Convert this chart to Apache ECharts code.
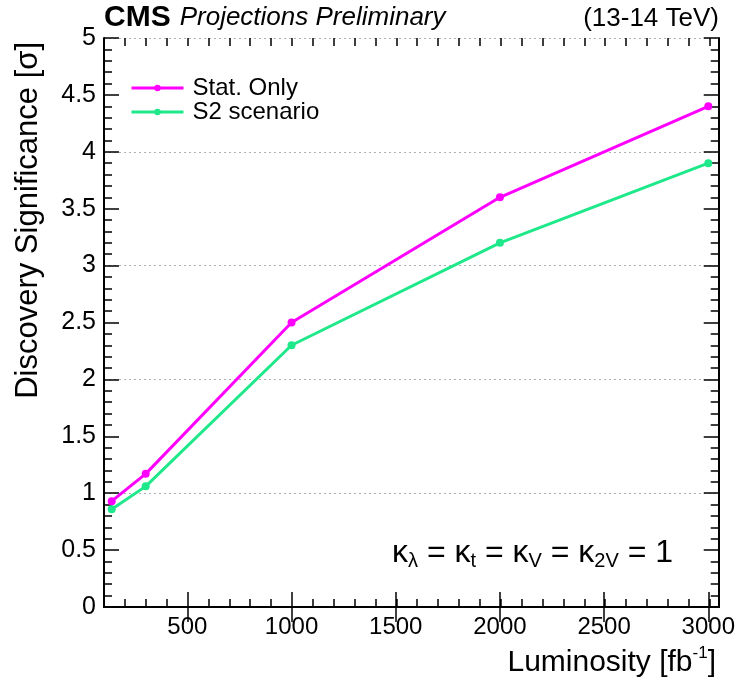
<!DOCTYPE html>
<html>
<head>
<meta charset="utf-8">
<script src="https://cdn.jsdelivr.net/npm/echarts@6/dist/echarts.min.js"></script>
<style>
  html, body { margin: 0; padding: 0; background: #fff; }
  #chart { width: 738px; height: 687px; }
</style>
</head>
<body>
<div id="chart"></div>
<script>
// Integrated luminosity points [fb^-1]
const luminosity = [137, 300, 1000, 2000, 3000];
// Discovery significance [sigma]
const statOnly = [0.93, 1.17, 2.50, 3.60, 4.40];
const s2Scenario = [0.86, 1.06, 2.30, 3.20, 3.90];
// Labelled ticks on the luminosity axis
const xTickLabels = [500, 1000, 1500, 2000, 2500, 3000];
const xMinorStep = 100;

const FONT = "'Liberation Sans', Arial, Helvetica, sans-serif";
const X_MIN = 100, X_MAX = 3050;

const xMinorTicks = [];
for (let v = X_MIN; v <= 3000; v += xMinorStep) xMinorTicks.push(v);

const pairs = (xs, ys) => xs.map((x, i) => [x, ys[i]]);

const chart = echarts.init(document.getElementById('chart'), null, { renderer: 'canvas' });

const gridRect = { left: 104, right: 18, top: 38, bottom: 80, containLabel: false };
const frameLine = { show: true, lineStyle: { color: '#000', width: 2 } };
const tickLine = { color: '#000', width: 1.5 };

chart.setOption({
  animation: false,
  backgroundColor: '#fff',
  grid: [Object.assign({}, gridRect), Object.assign({}, gridRect)],
  xAxis: [
    { // bottom: major ticks + labels
      type: 'value', gridIndex: 0, position: 'bottom', min: X_MIN, max: X_MAX,
      axisLine: frameLine,
      axisTick: { show: true, inside: true, length: 15, customValues: xTickLabels, lineStyle: tickLine },
      axisLabel: { show: true, customValues: xTickLabels, fontSize: 24, fontFamily: FONT, color: '#000', margin: 8,
                   formatter: v => String(v) },
      splitLine: { show: false }
    },
    { // top: major ticks
      type: 'value', gridIndex: 0, position: 'top', min: X_MIN, max: X_MAX,
      axisLine: frameLine,
      axisTick: { show: true, inside: true, length: 15, customValues: xTickLabels, lineStyle: tickLine },
      axisLabel: { show: false },
      splitLine: { show: false }
    },
    { // bottom: minor ticks
      type: 'value', gridIndex: 1, position: 'bottom', min: X_MIN, max: X_MAX,
      axisLine: { show: false },
      axisTick: { show: true, inside: true, length: 8, customValues: xMinorTicks, lineStyle: tickLine },
      axisLabel: { show: false },
      splitLine: { show: false }
    },
    { // top: minor ticks
      type: 'value', gridIndex: 1, position: 'top', min: X_MIN, max: X_MAX,
      axisLine: { show: false },
      axisTick: { show: true, inside: true, length: 8, customValues: xMinorTicks, lineStyle: tickLine },
      axisLabel: { show: false },
      splitLine: { show: false }
    }
  ],
  yAxis: [
    { // left: labels, major + minor ticks
      type: 'value', gridIndex: 0, position: 'left', min: 0, max: 5, interval: 0.5,
      axisLine: frameLine,
      axisTick: { show: true, inside: true, length: 15, lineStyle: tickLine },
      minorTick: { show: true, splitNumber: 5, length: 8, lineStyle: tickLine },
      axisLabel: { show: true, fontSize: 25, fontFamily: FONT, color: '#000', margin: 8,
                   formatter: v => String(Math.round(v * 10) / 10) },
      splitLine: { show: false }
    },
    { // right: mirrored ticks
      type: 'value', gridIndex: 0, position: 'right', min: 0, max: 5, interval: 0.5,
      axisLine: frameLine,
      axisTick: { show: true, inside: true, length: 15, lineStyle: tickLine },
      minorTick: { show: true, splitNumber: 5, length: 8, lineStyle: tickLine },
      axisLabel: { show: false },
      splitLine: { show: false }
    },
    { // dotted horizontal grid at whole sigma values
      type: 'value', gridIndex: 1, position: 'left', min: 0, max: 5, interval: 1,
      axisLine: { show: false },
      axisTick: { show: false },
      axisLabel: { show: false },
      splitLine: { show: true, lineStyle: { color: '#b0b0b0', width: 1, type: [2, 3] } }
    }
  ],
  legend: {
    orient: 'vertical',
    left: 130, top: 76, padding: 0,
    itemWidth: 52, itemHeight: 8, itemGap: 0,
    lineStyle: { width: 3 },
    textStyle: { fontSize: 24, fontFamily: FONT, color: '#000', lineHeight: 24, padding: [0, 0, 0, 4] },
    data: ['Stat. Only', 'S2 scenario']
  },
  series: [
    {
      name: 'Stat. Only', type: 'line', xAxisIndex: 0, yAxisIndex: 0,
      data: pairs(luminosity, statOnly),
      symbol: 'circle', symbolSize: 8, showSymbol: true,
      lineStyle: { color: '#ff00ff', width: 3 },
      itemStyle: { color: '#ff00ff' },
      z: 3
    },
    {
      name: 'S2 scenario', type: 'line', xAxisIndex: 0, yAxisIndex: 0,
      data: pairs(luminosity, s2Scenario),
      symbol: 'circle', symbolSize: 8, showSymbol: true,
      lineStyle: { color: '#1fe88a', width: 3 },
      itemStyle: { color: '#1fe88a' },
      z: 3
    }
  ],
  graphic: [
    { // header, left
      type: 'text', left: 104, top: 3,
      style: {
        text: '{b|CMS}{i|Projections Preliminary}',
        rich: {
          b: { fontSize: 30, fontWeight: 'bold', fontFamily: FONT, fill: '#000', lineHeight: 32 },
          i: { fontSize: 26, fontStyle: 'italic', fontFamily: FONT, fill: '#000', lineHeight: 32, padding: [0, 0, 0, 9] }
        }
      }
    },
    { // header, right
      type: 'text', right: 19, top: 3,
      style: { text: '(13-14 TeV)', fontSize: 26, fontFamily: FONT, fill: '#000', lineHeight: 32 }
    },
    { // y-axis title
      type: 'text', x: 28, y: 42, rotation: Math.PI / 2,
      style: { text: 'Discovery Significance [σ]', fontSize: 31, fontFamily: FONT, fill: '#000',
               align: 'right', verticalAlign: 'middle' }
    },
    { // x-axis title
      type: 'text', x: 716, y: 663,
      style: {
        text: '{t|Luminosity [fb}{u|-1}{t|]}',
        align: 'right', verticalAlign: 'middle',
        rich: {
          t: { fontSize: 30, fontFamily: FONT, fill: '#000', lineHeight: 36, verticalAlign: 'middle' },
          u: { fontSize: 17, fontFamily: FONT, fill: '#000', lineHeight: 18, verticalAlign: 'top' }
        }
      }
    },
    { // coupling assumptions
      type: 'text', x: 392, y: 554,
      style: {
        text: '{k|κ}{s|λ}{k| = κ}{s|t}{k| = κ}{s|V}{k| = κ}{s|2V}{k| = 1}',
        align: 'left', verticalAlign: 'middle',
        rich: {
          k: { fontSize: 32, fontFamily: FONT, fill: '#000', lineHeight: 34, verticalAlign: 'top' },
          s: { fontSize: 20, fontFamily: FONT, fill: '#000', lineHeight: 20, verticalAlign: 'bottom' }
        }
      }
    }
  ]
});
</script>
</body>
</html>
